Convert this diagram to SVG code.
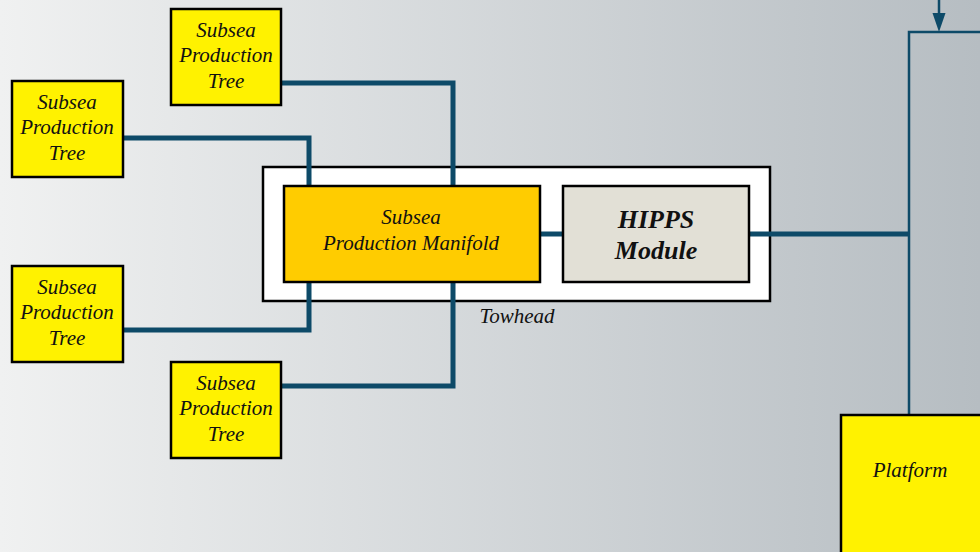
<svg xmlns="http://www.w3.org/2000/svg" width="980" height="552" viewBox="0 0 980 552">
<defs>
<linearGradient id="bg" x1="0" y1="0" x2="1" y2="0">
<stop offset="0" stop-color="#f0f1f1"/>
<stop offset="1" stop-color="#b6bdc2"/>
</linearGradient>
</defs>
<style>
.tree{fill:#fff200;stroke:#000;stroke-width:2.5}
.t{font-family:"Liberation Serif",serif;font-style:italic;font-size:21px;fill:#111;text-anchor:middle}
.b{font-weight:bold;font-size:26px}
.pipe{fill:none;stroke:#0d4a68;stroke-width:5}
.thin{fill:none;stroke:#0d4a68;stroke-width:2.5}
.head{fill:#0d4a68}
</style>
<rect width="980" height="552" fill="url(#bg)"/>
<g id="towhead">
<rect x="263" y="167" width="507" height="134" fill="#fff" stroke="#000" stroke-width="2.5"/>
<text class="t" x="517" y="323">Towhead</text>
</g>
<g id="connectors">
<path class="pipe" d="M281,83 H453 V186"/>
<path class="pipe" d="M123,138 H309 V186"/>
<path class="pipe" d="M123,330 H309 V282"/>
<path class="pipe" d="M281,386 H453 V282"/>
<path class="pipe" d="M540,234 H563"/>
<path class="pipe" d="M749,234 H909"/>
<path class="thin" d="M909,415 V32 H982"/>
<path class="thin" d="M939,0 V16"/>
<polygon class="head" points="932.5,13 945.5,13 939,32"/>
</g>
<g id="manifold">
<rect x="284" y="186" width="256" height="96" fill="#ffcc00" stroke="#000" stroke-width="2.5"/>
<text class="t" x="411" y="224">Subsea</text>
<text class="t" x="411" y="250">Production Manifold</text>
</g>
<g id="hipps">
<rect x="563" y="186" width="186" height="96" fill="#e2e0d6" stroke="#000" stroke-width="2.5"/>
<text class="t b" x="656" y="228">HIPPS</text>
<text class="t b" x="656" y="259">Module</text>
</g>
<g id="tree-top">
<rect class="tree" x="171" y="9" width="110" height="96"/>
<text class="t" x="226" y="37">Subsea</text>
<text class="t" x="226" y="62">Production</text>
<text class="t" x="226" y="88">Tree</text>
</g>
<g id="tree-left1">
<rect class="tree" x="12" y="81" width="111" height="96"/>
<text class="t" x="67" y="109">Subsea</text>
<text class="t" x="67" y="134">Production</text>
<text class="t" x="67" y="160">Tree</text>
</g>
<g id="tree-left2">
<rect class="tree" x="12" y="266" width="111" height="96"/>
<text class="t" x="67" y="294">Subsea</text>
<text class="t" x="67" y="319">Production</text>
<text class="t" x="67" y="345">Tree</text>
</g>
<g id="tree-bottom">
<rect class="tree" x="171" y="362" width="110" height="96"/>
<text class="t" x="226" y="390">Subsea</text>
<text class="t" x="226" y="415">Production</text>
<text class="t" x="226" y="441">Tree</text>
</g>
<g id="platform">
<rect class="tree" x="841" y="415" width="145" height="145"/>
<text class="t" x="910" y="477">Platform</text>
</g>
</svg>
